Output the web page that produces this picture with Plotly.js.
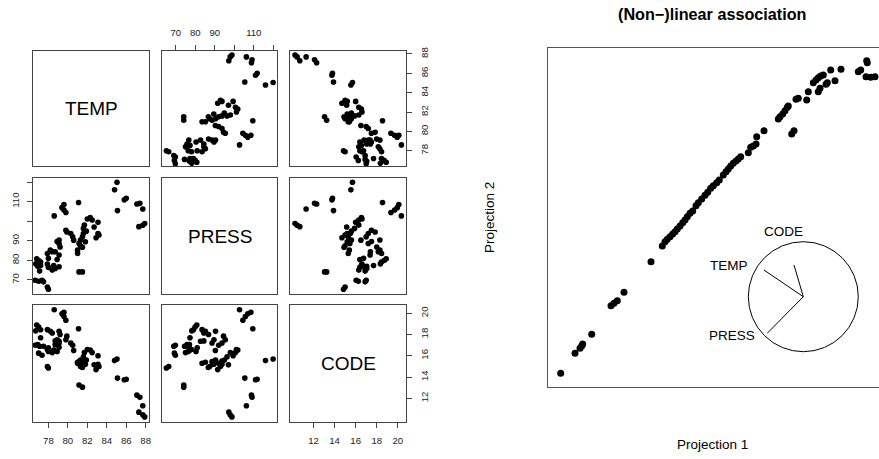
<!DOCTYPE html>
<html>
<head>
<meta charset="utf-8">
<script src="https://cdn.plot.ly/plotly-3.0.1.min.js"></script>
<style>
  html, body { margin: 0; padding: 0; background: #fff; }
  #chart { width: 879px; height: 459px; }
</style>
</head>
<body>
<div id="chart"></div>
<script>
// Variables of the scatterplot matrix
const varNames = ['TEMP', 'PRESS', 'CODE'];

const temp = [
  85.05, 84.8, 85.8, 86.0, 85.1, 87.1, 87.4, 87.7, 87.3, 87.7, 87.9,
  81.1, 79.6, 79.4, 79.6, 79.8, 78.6,
  82.0, 82.3, 82.5, 83.1, 81.7, 81.6, 81.9, 83.1, 83.2, 81.6, 81.5, 81.3, 81.8,
  81.15, 81.3, 81.0, 81.0, 81.5, 82.7, 82.9,
  79.8, 79.9, 80.3, 80.5, 80.6, 79.1, 78.9, 79.1, 79.2, 78.2, 78.4, 77.9, 78.7,
  79.1, 78.0, 78.9, 76.8, 77.0, 77.2, 76.7, 76.9, 77.2, 77.9, 78.0, 78.4, 78.7,
  79.1, 78.55, 77.1, 81.15, 81.5, 76.65, 77.0, 77.35, 77.5, 77.9, 78.0
];
const press = [
  119.9, 116.0, 110.9, 111.7, 105.4, 108.8, 109.1, 106.2, 97.2, 97.9, 98.8,
  109.5, 108.5, 106.9, 105.7, 104.4, 102.7,
  101.1, 101.8, 100.6, 99.4, 98.0, 96.3, 94.9, 93.7, 92.9, 93.7, 92.0, 90.4, 89.5,
  88.6, 87.4, 85.2, 83.5, 86.7, 97.0, 91.5,
  95.4, 94.5, 93.7, 92.0, 90.3, 90.4, 89.6, 88.6, 86.8, 85.2, 84.4, 83.5, 84.4,
  82.7, 81.0, 80.4, 80.8, 79.9, 79.1, 78.2, 77.0, 77.3, 78.1, 76.4, 75.0, 75.8,
  76.7, 77.3, 74.5, 74.1, 74.1, 69.8, 69.3, 69.8, 69.0, 66.4, 65.2
];
const code = [
  15.7, 15.55, 13.75, 13.8, 13.9, 12.3, 12.1, 11.3, 10.7, 10.45, 10.25,
  18.55, 20.1, 19.95, 19.7, 19.35, 20.34,
  16.6, 16.55, 16.3, 16.0, 16.3, 15.9, 15.6, 15.2, 15.0, 15.5, 15.3, 15.6, 15.2,
  15.45, 15.0, 15.4, 15.3, 14.9, 15.15, 14.7,
  17.5, 17.85, 17.2, 17.0, 16.5, 18.3, 17.5, 17.2, 18.0, 18.3, 18.15, 18.46, 17.4,
  17.37, 16.75, 16.4, 18.9, 18.7, 18.45, 18.35, 17.05, 17.7, 16.6, 16.4, 16.3, 17.05,
  16.8, 16.55, 16.9, 13.25, 13.05, 17.0, 16.25, 16.05, 16.9, 15.0, 14.85
];

// Projected coordinates of the tour view
const proj1 = [
  0.127, 0.27, 0.32, 0.347, 0.337, 0.437, 0.63, 0.66, 0.693, 0.76, 1.03,
  1.143, 1.17, 1.193, 1.22, 1.247, 1.27, 1.293, 1.32, 1.347, 1.37, 1.393, 1.42,
  1.447, 1.48, 1.503, 1.537, 1.57, 1.597, 1.627, 1.653, 1.687, 1.713, 1.753, 1.78,
  1.803, 1.827, 1.853, 1.88, 1.903, 1.927, 2.003, 2.027, 2.053, 2.08, 2.087, 2.16,
  2.303, 2.32, 2.347, 2.37, 2.393, 2.403, 2.437, 2.46, 2.48, 2.503, 2.587, 2.603,
  2.653, 2.68, 2.703, 2.727, 2.753, 2.703, 2.72, 2.78, 2.793, 2.827, 2.87, 2.93,
  3.103, 3.127, 3.187, 3.193, 3.18, 3.227, 3.27
];
const proj2 = [
  0.134, 0.334, 0.384, 0.427, 0.407, 0.524, 0.81, 0.834, 0.86, 0.944, 1.25,
  1.407, 1.45, 1.474, 1.50, 1.527, 1.55, 1.577, 1.607, 1.64, 1.667, 1.70, 1.734,
  1.757, 1.81, 1.84, 1.877, 1.914, 1.944, 1.984, 2.01, 2.04, 2.067, 2.117, 2.15,
  2.177, 2.207, 2.234, 2.257, 2.277, 2.30, 2.34, 2.394, 2.407, 2.427, 2.50, 2.56,
  2.677, 2.70, 2.727, 2.76, 2.794, 2.807, 2.527, 2.56, 2.874, 2.884, 2.867, 2.95,
  3.04, 3.067, 3.09, 3.107, 3.117, 2.95, 2.984, 3.024, 3.04, 3.167, 3.06, 3.174,
  3.15, 3.167, 3.26, 3.24, 3.10, 3.094, 3.10
];

// Projection axes shown in the reference circle (unit-circle coordinates)
const axisNames = ['TEMP', 'PRESS', 'CODE'];
const axisDirX = [-0.715, -0.655, -0.169];
const axisDirY = [0.485, -0.665, 0.576];

const W = 879, H = 459;
const FONT = 'Liberation Sans, Arial, Helvetica, sans-serif';
const fx = v => v / W;
const fy = v => 1 - v / H;

const series = { TEMP: temp, PRESS: press, CODE: code };
const ranges = { TEMP: [76.42, 88.34], PRESS: [62.8, 122.05], CODE: [9.8, 20.78] };
const tickSets = {
  TEMP:  { vals: [78, 80, 82, 84, 86, 88], text: ['78', '80', '82', '84', '86', '88'] },
  PRESS: { vals: [70, 80, 90, 100, 110, 120], text: ['70', '80', '90', '', '110', ''] },
  CODE:  { vals: [12, 14, 16, 18, 20], text: ['12', '14', '16', '18', '20'] }
};
// pixel boxes of the matrix panels
const cols = [[33, 149], [161.7, 277.3], [290.3, 406]];
const rows = [[50.7, 166], [178, 294], [305, 421.7]];
// outer axes drawn in the matrix: which panel carries which side
const xSides = { '0,1': 'top', '2,0': 'bottom', '2,2': 'bottom' };
const ySides = { '1,0': 'left', '0,2': 'right', '2,2': 'right' };

const traces = [];
const layout = {
  width: W, height: H,
  margin: { l: 0, r: 0, t: 0, b: 0 },
  paper_bgcolor: '#fff', plot_bgcolor: '#fff',
  showlegend: false,
  font: { family: FONT, color: '#000' },
  annotations: [],
  shapes: []
};

const boxLine = '#444';
function baseAxis(extra) {
  return Object.assign({
    showline: true, mirror: true, linecolor: boxLine, linewidth: 1,
    showgrid: false, zeroline: false, ticks: '', showticklabels: false,
    fixedrange: true
  }, extra);
}
function tickAxis(name, side, isY) {
  const t = tickSets[name];
  return {
    side: side, ticks: 'outside', ticklen: 5, tickwidth: 1, tickcolor: boxLine,
    showticklabels: true, tickmode: 'array', tickvals: t.vals, ticktext: t.text,
    tickfont: { family: FONT, size: 9.6, color: '#222' },
    tickangle: isY ? -90 : 0,
    ticklabelstandoff: isY ? 4 : 5
  };
}

for (let i = 0; i < 3; i++) {
  for (let j = 0; j < 3; j++) {
    const k = i * 3 + j + 1;
    const xv = varNames[j], yv = varNames[i];
    const key = i + ',' + j;
    let xa = baseAxis({
      domain: [fx(cols[j][0]), fx(cols[j][1])], anchor: 'y' + k, range: ranges[xv]
    });
    let ya = baseAxis({
      domain: [fy(rows[i][1]), fy(rows[i][0])], anchor: 'x' + k, range: ranges[yv]
    });
    if (xSides[key]) Object.assign(xa, tickAxis(xv, xSides[key], false));
    if (ySides[key]) Object.assign(ya, tickAxis(yv, ySides[key], true));
    layout['xaxis' + k] = xa;
    layout['yaxis' + k] = ya;

    if (i === j) {
      traces.push({ type: 'scatter', mode: 'markers', x: [], y: [],
        xaxis: 'x' + k, yaxis: 'y' + k, hoverinfo: 'skip' });
      layout.annotations.push({
        text: xv, xref: 'x' + k + ' domain', yref: 'y' + k + ' domain',
        x: 0.5, y: 0.5, xanchor: 'center', yanchor: 'middle', showarrow: false,
        font: { family: FONT, size: 19, color: '#000' }
      });
    } else {
      traces.push({
        type: 'scatter', mode: 'markers',
        x: series[xv], y: series[yv],
        xaxis: 'x' + k, yaxis: 'y' + k,
        marker: { color: '#000', size: 5.6, line: { width: 0 } },
        hoverinfo: 'skip'
      });
    }
  }
}

// Tour projection panel
const P = 10;
layout['xaxis' + P] = {
  domain: [fx(548), 1], anchor: 'y' + P, range: [0, 3.31],
  showline: true, mirror: true, linecolor: '#555', linewidth: 1,
  showgrid: false, zeroline: false, ticks: '', showticklabels: false, fixedrange: true
};
layout['yaxis' + P] = {
  domain: [fy(386.7), fy(48)], anchor: 'x' + P, range: [0, 3.387],
  showline: true, mirror: false, linecolor: '#555', linewidth: 1,
  showgrid: false, zeroline: false, ticks: '', showticklabels: false, fixedrange: true
};
traces.push({
  type: 'scatter', mode: 'markers', x: proj1, y: proj2,
  xaxis: 'x' + P, yaxis: 'y' + P,
  marker: { color: '#000', size: 7, line: { width: 0 } },
  hoverinfo: 'skip'
});

// reference circle with projected variable axes
const cx = 2.553, cy = 0.90, r = 0.55;
layout.shapes.push({
  type: 'circle', xref: 'x' + P, yref: 'y' + P,
  x0: cx - r, x1: cx + r, y0: cy - r, y1: cy + r,
  line: { color: '#000', width: 1 }
});
const labelOffsets = [[-1.345, 0.576], [-1.30, -0.70], [-0.36, 1.18]];
axisNames.forEach((nm, idx) => {
  layout.shapes.push({
    type: 'line', xref: 'x' + P, yref: 'y' + P,
    x0: cx, y0: cy, x1: cx + r * axisDirX[idx], y1: cy + r * axisDirY[idx],
    line: { color: '#000', width: 1 }
  });
  layout.annotations.push({
    text: nm, xref: 'x' + P, yref: 'y' + P,
    x: cx + r * labelOffsets[idx][0], y: cy + r * labelOffsets[idx][1],
    xanchor: 'center', yanchor: 'middle',
    showarrow: false, font: { family: FONT, size: 13.5, color: '#000' }
  });
});

// titles of the projection panel
layout.annotations.push({
  text: '<b>(Non\u2212)linear association</b>', xref: 'paper', yref: 'paper',
  x: fx(712), y: fy(14), xanchor: 'center', yanchor: 'middle', showarrow: false,
  font: { family: FONT, size: 16.2, color: '#000' }
});
layout.annotations.push({
  text: 'Projection 1', xref: 'paper', yref: 'paper',
  x: fx(712), y: fy(444), xanchor: 'center', yanchor: 'middle', showarrow: false,
  font: { family: FONT, size: 13.5, color: '#000' }
});
layout.annotations.push({
  text: 'Projection 2', xref: 'paper', yref: 'paper',
  x: fx(489), y: fy(217), xanchor: 'center', yanchor: 'middle', showarrow: false,
  textangle: -90,
  font: { family: FONT, size: 13.5, color: '#000' }
});

Plotly.newPlot('chart', traces, layout, { staticPlot: true, displayModeBar: false });
</script>
</body>
</html>
